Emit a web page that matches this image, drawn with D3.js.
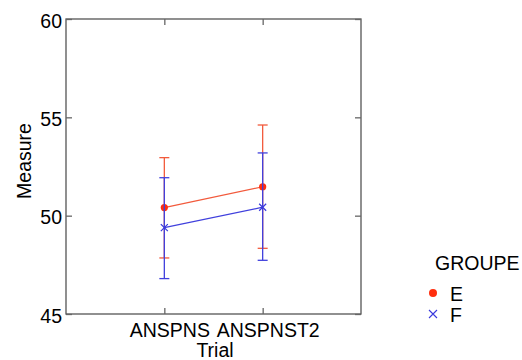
<!DOCTYPE html>
<html>
<head>
<meta charset="utf-8">
<script src="https://d3js.org/d3.v7.min.js"></script>
<style>
  body { margin: 0; background: #fff; }
  text { font-family: "Liberation Sans", Arial, sans-serif; fill: #000; }
</style>
</head>
<body>
<div id="chart"></div>
<script>
const trials = ["ANSPNS", "ANSPNST2"];
const groups = ["E", "F"];
const meanE = [50.41, 51.47];
const lowE  = [47.85, 48.34];
const highE = [52.95, 54.61];
const meanF = [49.39, 50.43];
const lowF  = [46.80, 47.73];
const highF = [51.93, 53.19];
const yTicks = [45, 50, 55, 60];

const width = 522, height = 360;
const box = {left: 66, right: 361, top: 19, bottom: 314};
const fs = 19.5;

const svg = d3.select("#chart").append("svg")
    .attr("width", width).attr("height", height);

const x = d3.scalePoint().domain(trials).range([box.left, box.right]).padding(1);
const y = d3.scaleLinear().domain([45, 60]).range([box.bottom, box.top]);

// frame
svg.append("rect")
    .attr("x", box.left).attr("y", box.top)
    .attr("width", box.right - box.left).attr("height", box.bottom - box.top)
    .attr("fill", "none").attr("stroke", "#555").attr("stroke-width", 1.3);

// left axis
const yl = svg.append("g").attr("transform", `translate(${box.left},0)`)
    .call(d3.axisLeft(y).tickValues(yTicks).tickSize(-6).tickPadding(4));
yl.select(".domain").remove();
yl.selectAll("line").attr("stroke", "#666").attr("stroke-width", 1.3);
yl.selectAll("text").attr("font-size", fs).attr("dy", "0.42em")
    .attr("font-family", "Liberation Sans, Arial, sans-serif");

// right ticks
const yr = svg.append("g").attr("transform", `translate(${box.right},0)`)
    .call(d3.axisRight(y).tickValues(yTicks).tickSize(-6).tickFormat(""));
yr.select(".domain").remove();
yr.selectAll("line").attr("stroke", "#666").attr("stroke-width", 1.3);

// bottom axis
const xb = svg.append("g").attr("transform", `translate(0,${box.bottom})`)
    .call(d3.axisBottom(x).tickSize(-6).tickPadding(9));
xb.select(".domain").remove();
xb.selectAll("line").attr("stroke", "#666").attr("stroke-width", 1.3);
xb.selectAll("text").attr("font-size", fs).attr("dx", 5)
    .attr("font-family", "Liberation Sans, Arial, sans-serif");

// top ticks
const xt = svg.append("g").attr("transform", `translate(0,${box.top})`)
    .call(d3.axisTop(x).tickSize(-6).tickFormat(""));
xt.select(".domain").remove();
xt.selectAll("line").attr("stroke", "#666").attr("stroke-width", 1.3);

// axis titles
svg.append("text").attr("x", 215).attr("y", 357)
    .attr("text-anchor", "middle").attr("font-size", fs).text("Trial");
svg.append("text").attr("transform", `translate(31,161) rotate(-90)`)
    .attr("text-anchor", "middle").attr("font-size", fs).text("Measure");

const series = [
  {name: "E", mean: meanE, low: lowE, high: highE, line: "#f25a3c", mark: "#ff2e0e", shape: "dot"},
  {name: "F", mean: meanF, low: lowF, high: highF, line: "#4040dd", mark: "#3a3add", shape: "x"}
];

const cap = 5;
series.forEach(s => {
  const g = svg.append("g");
  trials.forEach((t, i) => {
    const cx = x(t);
    g.append("line").attr("x1", cx).attr("x2", cx)
      .attr("y1", y(s.low[i])).attr("y2", y(s.high[i]))
      .attr("stroke", s.line).attr("stroke-width", 1.3);
    [s.low[i], s.high[i]].forEach(v => {
      g.append("line").attr("x1", cx - cap).attr("x2", cx + cap)
        .attr("y1", y(v)).attr("y2", y(v))
        .attr("stroke", s.line).attr("stroke-width", 1.3);
    });
  });
  g.append("path")
    .datum(trials.map((t, i) => [x(t), y(s.mean[i])]))
    .attr("fill", "none").attr("stroke", s.line).attr("stroke-width", 1.2)
    .attr("d", d3.line());
  trials.forEach((t, i) => {
    const cx = x(t), cy = y(s.mean[i]);
    if (s.shape === "dot") {
      g.append("circle").attr("cx", cx).attr("cy", cy).attr("r", 3.6).attr("fill", s.mark);
    } else {
      g.append("path").attr("d", `M${cx-3.5},${cy-3.5}L${cx+3.5},${cy+3.5}M${cx-3.5},${cy+3.5}L${cx+3.5},${cy-3.5}`)
        .attr("stroke", s.mark).attr("stroke-width", 1.2);
    }
  });
});

// legend
const lg = svg.append("g");
lg.append("text").attr("x", 435).attr("y", 270).attr("font-size", fs).text("GROUPE");
series.forEach((s, i) => {
  const ly = 293 + i * 21;
  if (s.shape === "dot") {
    lg.append("circle").attr("cx", 433).attr("cy", ly).attr("r", 4).attr("fill", s.mark);
  } else {
    lg.append("path").attr("d", `M${433-4},${ly-4}L${433+4},${ly+4}M${433-4},${ly+4}L${433+4},${ly-4}`)
      .attr("stroke", s.mark).attr("stroke-width", 1.1);
  }
  lg.append("text").attr("x", 450).attr("y", ly + 8).attr("font-size", fs).text(s.name);
});
</script>
</body>
</html>
